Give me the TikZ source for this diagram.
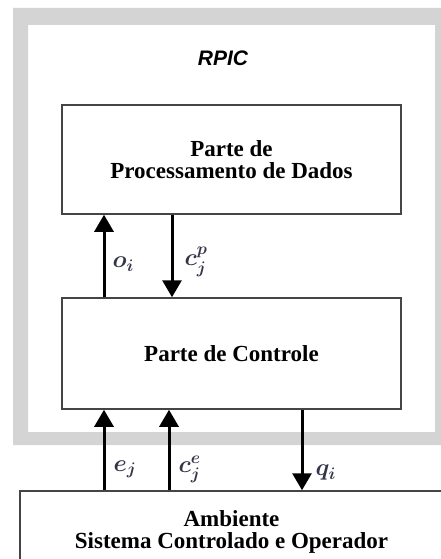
\documentclass[tikz,border=0pt]{standalone}
\usepackage{fix-cm}
\usepackage{amsmath}
\usepackage{bm}
\usepackage{fontspec}
\setmainfont{Liberation Serif}
\setsansfont{Liberation Sans}
\usetikzlibrary{arrows.meta}

\definecolor{framegray}{HTML}{D4D4D4}
\definecolor{boxline}{HTML}{454545}
\definecolor{lblcol}{HTML}{35354A}

\tikzset{
  block/.style={draw=boxline, line width=1.5pt, fill=white, rectangle,
    align=center, font=\fontsize{23}{24}\selectfont\bfseries, inner sep=0pt},
  flow/.style={line width=3pt, black,
    -{Triangle[length=17pt,width=19pt]}},
  lbl/.style={inner sep=0pt, text=lblcol, font=\fontsize{24}{26}\selectfont},
}

\begin{document}
\begin{tikzpicture}[x=1pt,y=1pt]
  \clip (0,0) rectangle (441,-559);
  \fill[white] (0,0) rectangle (441,-559);

  % grey frame of the RPIC
  \fill[framegray, even odd rule]
    (13,-8) rectangle (460,-445)
    (28,-25) rectangle (435,-432);
  \node[font=\fontsize{21}{22}\selectfont\sffamily\bfseries\itshape] (rpic) at (223,-58) {RPIC};

  % blocks
  \node[block, minimum width=339pt, minimum height=109pt] (pd) at (231.5,-159.5)
    {Parte de\\[-2pt]Processamento de Dados};
  \node[block, minimum width=339pt, minimum height=111pt] (pc) at (231.5,-353.5)
    {Parte de Controle};
  \node[block, minimum width=423pt, minimum height=78pt, text depth=0pt] (amb) at (231.5,-530)
    {Ambiente\\[-2pt]Sistema Controlado e Operador};

  % arrow columns
  \coordinate (xo) at (104,0);
  \coordinate (xcp) at (172,0);
  \coordinate (xe) at (104,0);
  \coordinate (xce) at (169,0);
  \coordinate (xq) at (302,0);

  % signals between the two parts
  \draw[flow] (pc.north -| xo) -- (pd.south -| xo)
    node[lbl, pos=0.4, anchor=west, xshift=7pt] {$\bm{o_i}$};
  \draw[flow] (pd.south -| xcp) -- (pc.north -| xcp)
    node[lbl, pos=0.57, anchor=west, xshift=11pt] {$\bm{c_j^p}$};

  % signals with the environment
  \draw[flow] (amb.north -| xe) -- (pc.south -| xe)
    node[lbl, pos=0.26, anchor=west, xshift=8pt] {$\bm{e_j}$};
  \draw[flow] (amb.north -| xce) -- (pc.south -| xce)
    node[lbl, pos=0.26, anchor=west, xshift=8pt] {$\bm{c_j^e}$};
  \draw[flow] (pc.south -| xq) -- (amb.north -| xq)
    node[lbl, pos=0.78, anchor=west, xshift=12pt] {$\bm{q_i}$};
\end{tikzpicture}
\end{document}
